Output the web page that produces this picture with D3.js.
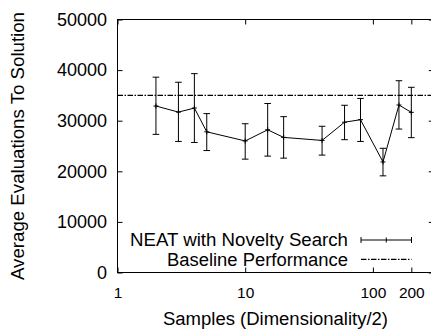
<!DOCTYPE html>
<html>
<head>
<meta charset="utf-8">
<script src="https://cdn.jsdelivr.net/npm/d3@7"></script>
<style>
  html, body { margin: 0; padding: 0; background: #fff; }
  svg { display: block; font-family: "Liberation Sans", Arial, sans-serif; }
</style>
</head>
<body>
<svg id="chart" width="431" height="329"></svg>
<script>
// ---- data ----
const samples = [2, 3, 4, 5, 10, 15, 20, 40, 60, 80, 120, 160, 200];
const means   = [32900, 31700, 32500, 27800, 26000, 28200, 26700, 26100, 29700, 30200, 21850, 33100, 31650];
const upper   = [38600, 37600, 39300, 31400, 29400, 33400, 30800, 28900, 33050, 34400, 24550, 37900, 36600];
const lower   = [27300, 25900, 25700, 24100, 22400, 23000, 22600, 23200, 26250, 25900, 19100, 28350, 26650];
const baselineValue = 35000;
const xTickValues = [1, 10, 100, 200];
const yTickValues = [0, 10000, 20000, 30000, 40000, 50000];
const seriesNames = ["NEAT with Novelty Search", "Baseline Performance"];
const xTitle = "Samples (Dimensionality/2)";
const yTitle = "Average Evaluations To Solution";

// ---- layout ----
const svg = d3.select("#chart");
const margin = { left: 117.5, top: 19.5 };
const plotW = 316.3, plotH = 253;

const x = d3.scaleLog().domain([1, 300]).range([margin.left, margin.left + plotW]);
const y = d3.scaleLinear().domain([0, 50000]).range([margin.top + plotH, margin.top]);

const tickLen = 5;

// axes (inward ticks)
const gx = svg.append("g").attr("transform", `translate(0,${y(0)})`)
  .call(d3.axisBottom(x).tickValues(xTickValues).tickFormat(d3.format("d")).tickSize(-tickLen).tickPadding(14));
gx.selectAll("text").attr("font-size", 15.5).attr("fill", "#000").attr("font-family", "Liberation Sans, Arial, sans-serif");

const gy = svg.append("g").attr("transform", `translate(${x(1)},0)`)
  .call(d3.axisLeft(y).tickValues(yTickValues).tickFormat(d3.format("d")).tickSize(-tickLen).tickPadding(10.5));
gy.selectAll("text").attr("font-size", 18).attr("fill", "#000").attr("font-family", "Liberation Sans, Arial, sans-serif");

const gt = svg.append("g").attr("transform", `translate(0,${y(50000)})`)
  .call(d3.axisTop(x).tickValues(xTickValues).tickFormat("").tickSize(-tickLen));
const gr = svg.append("g").attr("transform", `translate(${x(300)},0)`)
  .call(d3.axisRight(y).tickValues(yTickValues).tickFormat("").tickSize(-tickLen));

[gx, gy, gt, gr].forEach(g => {
  g.select(".domain").remove();
  g.selectAll(".tick line").attr("stroke", "#000").attr("stroke-width", 1);
});

// frame
svg.append("rect")
  .attr("x", x(1)).attr("y", y(50000))
  .attr("width", x(300) - x(1)).attr("height", y(0) - y(50000))
  .attr("fill", "none").attr("stroke", "#000").attr("stroke-width", 1);

// baseline
const dashPattern = "5.5,1.5,1.5,1.5";
svg.append("line")
  .attr("x1", x(1)).attr("x2", x(300))
  .attr("y1", y(baselineValue)).attr("y2", y(baselineValue))
  .attr("stroke", "#000").attr("stroke-width", 1.2).attr("stroke-dasharray", dashPattern);

// data line
const pts = samples.map((s, i) => ({ s, m: means[i], u: upper[i], l: lower[i] }));
svg.append("path")
  .datum(pts)
  .attr("fill", "none").attr("stroke", "#000").attr("stroke-width", 1)
  .attr("d", d3.line().x(d => x(d.s)).y(d => y(d.m)));

// error bars
const cap = 3.3;
const eb = svg.append("g").attr("stroke", "#000").attr("stroke-width", 1);
pts.forEach(d => {
  const cx = x(d.s);
  eb.append("line").attr("x1", cx).attr("x2", cx).attr("y1", y(d.u)).attr("y2", y(d.l));
  eb.append("line").attr("x1", cx - cap).attr("x2", cx + cap).attr("y1", y(d.u)).attr("y2", y(d.u));
  eb.append("line").attr("x1", cx - cap).attr("x2", cx + cap).attr("y1", y(d.l)).attr("y2", y(d.l));
  eb.append("line").attr("x1", cx - 2.5).attr("x2", cx + 2.5).attr("y1", y(d.m)).attr("y2", y(d.m));
  eb.append("line").attr("x1", cx).attr("x2", cx).attr("y1", y(d.m) - 2.5).attr("y2", y(d.m) + 2.5);
});

// legend
const legTextX = 348, legX1 = 361, legX2 = 411.5;
const legY = [240, 259.3];
svg.append("text").attr("x", legTextX).attr("y", legY[0] + 6.3)
  .attr("text-anchor", "end").attr("font-size", 18)
  .attr("textLength", 218).attr("lengthAdjust", "spacingAndGlyphs").text(seriesNames[0]);
svg.append("text").attr("x", legTextX).attr("y", legY[1] + 6.3)
  .attr("text-anchor", "end").attr("font-size", 18)
  .attr("textLength", 181).attr("lengthAdjust", "spacingAndGlyphs").text(seriesNames[1]);
const lg = svg.append("g").attr("stroke", "#000").attr("stroke-width", 1);
lg.append("line").attr("x1", legX1).attr("x2", legX2).attr("y1", legY[0]).attr("y2", legY[0]);
lg.append("line").attr("x1", legX1).attr("x2", legX1).attr("y1", legY[0] - 3).attr("y2", legY[0] + 3);
lg.append("line").attr("x1", legX2).attr("x2", legX2).attr("y1", legY[0] - 3).attr("y2", legY[0] + 3);
const lmx = (legX1 + legX2) / 2;
lg.append("line").attr("x1", lmx).attr("x2", lmx).attr("y1", legY[0] - 2.5).attr("y2", legY[0] + 2.5);
svg.append("line").attr("x1", legX1).attr("x2", legX2).attr("y1", legY[1]).attr("y2", legY[1])
  .attr("stroke", "#000").attr("stroke-width", 1.2).attr("stroke-dasharray", dashPattern);

// titles
svg.append("text").attr("x", 275.5).attr("y", 325)
  .attr("text-anchor", "middle").attr("font-size", 18)
  .attr("textLength", 225).attr("lengthAdjust", "spacingAndGlyphs").text(xTitle);
svg.append("text")
  .attr("transform", "translate(23.5,146) rotate(-90)")
  .attr("text-anchor", "middle").attr("font-size", 18)
  .attr("textLength", 268).attr("lengthAdjust", "spacingAndGlyphs").text(yTitle);
</script>
</body>
</html>
